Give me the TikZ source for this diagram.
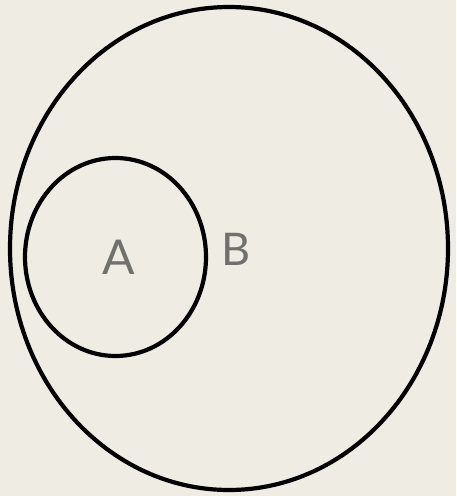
\documentclass[tikz,border=0pt]{standalone}
\usepackage{fontspec}
\setmainfont{Lato}
\definecolor{paper}{RGB}{238,236,227}
\definecolor{labelgray}{RGB}{112,112,108}
\tikzset{
  setline/.style={line width=4.2pt, black},
  setlabel/.style={text=labelgray, inner sep=0pt}
}
\begin{document}
\begin{tikzpicture}[x=1pt, y=-1pt]
		% Background and bounds
		\fill[paper] (0,0) rectangle (456,496);
		\useasboundingbox (0,0) rectangle (456,496);
		
		% Draw set B (outer)
		\draw[setline] (229,248.5) ellipse [x radius=219, y radius=241.5];
		
		% Draw set A (inner)
		\draw[setline] (115.5,257) ellipse [x radius=90.5, y radius=99];
		
		% Set labels
		\node[setlabel, font=\fontsize{48}{48}\selectfont] (labA) at (119,257) {A};
		\node[setlabel, font=\fontsize{45}{45}\selectfont] (labB) at (236,249) {B};
	\end{tikzpicture}
\end{document}
